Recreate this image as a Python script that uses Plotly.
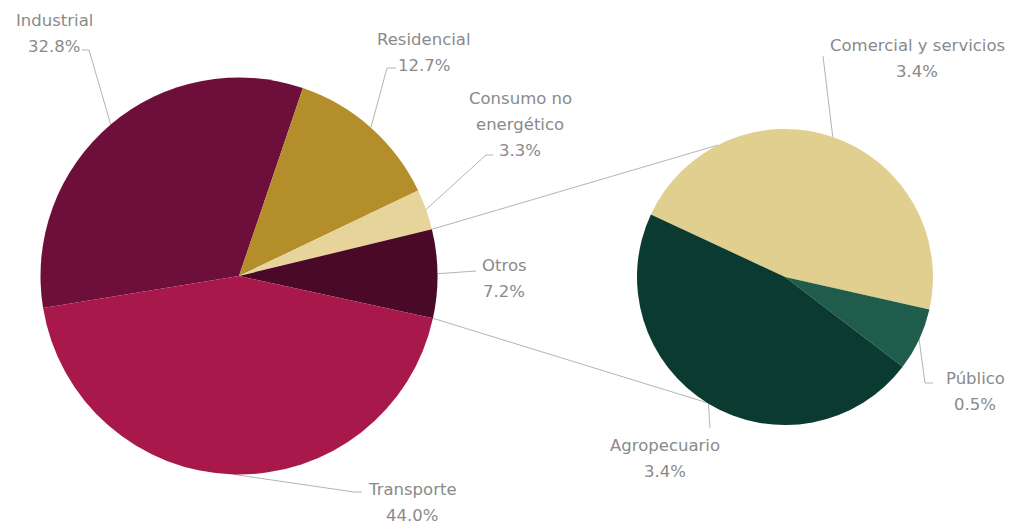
import math
import plotly.graph_objects as go

# Consumo final de energía por sector (%)
main_labels = ["Industrial", "Residencial", "Consumo no energético", "Otros", "Transporte"]
main_values = [32.8, 12.7, 3.3, 7.2, 44.0]
main_colors = ["#6e0e3b", "#b38e2a", "#e6d49a", "#4a0a27", "#a8184b"]

# Desglose de "Otros"
sub_labels = ["Comercial y servicios", "Público", "Agropecuario"]
sub_values = [3.4, 0.5, 3.4]
sub_colors = ["#e0cf8f", "#1f5c4c", "#0b3a31"]

# Canvas and pie geometry (pixels)
W, H = 1018, 525
MAIN_C, MAIN_R, MAIN_ROT = (239.0, 276.0), 198.5, 260.7
SUB_C, SUB_R, SUB_ROT = (785.0, 277.0), 148.0, 295.0

TEXT_COLOR = "#8a8a8a"
LINE_COLOR = "#b4b4b4"
FONT = dict(family="DejaVu Sans", size=16.5, color=TEXT_COLOR)
LINE_GAP = 26

# label placement: text lines, centre x, first-line y, leader bend points
label_layout = {
    "Industrial": dict(lines=["Industrial"], x=54, y=20, bend=[(89, 50), (82, 50)]),
    "Residencial": dict(lines=["Residencial"], x=424, y=39, bend=[(387, 68), (396, 68)]),
    "Consumo no energético": dict(lines=["Consumo no", "energético"], x=520, y=98,
                                   bend=[(486, 155), (493, 155)]),
    "Otros": dict(lines=["Otros"], x=504, y=265, bend=[(462, 272), (476, 271)]),
    "Transporte": dict(lines=["Transporte"], x=412, y=489, bend=[(354, 492), (362, 492)]),
    "Comercial y servicios": dict(lines=["Comercial y servicios"], x=917, y=45, bend=[(823, 56)]),
    "Público": dict(lines=["Público"], x=975, y=378, bend=[(925, 383), (933, 383)]),
    "Agropecuario": dict(lines=["Agropecuario"], x=665, y=445, bend=[(710, 428)]),
}

# Series lines join the "Otros" slice to the secondary pie at these angles
SERIES_END_ANGLES = (333.0, 211.9)


def domain(c, r):
    cx, cy = c
    return dict(x=[(cx - r) / W, (cx + r) / W], y=[1 - (cy + r) / H, 1 - (cy - r) / H])


def slice_angles(values, rotation):
    total = sum(values)
    out, a = [], rotation
    for v in values:
        span = 360.0 * v / total
        out.append((a, a + span, a + span / 2))
        a += span
    return out


def edge_point(c, r, ang):
    t = math.radians(ang)
    return (c[0] + r * math.sin(t), c[1] - r * math.cos(t))


fig = go.Figure()

fig.add_trace(go.Pie(
    labels=main_labels, values=main_values, sort=False, direction="clockwise",
    rotation=MAIN_ROT, marker=dict(colors=main_colors, line=dict(width=0)),
    textinfo="none", hoverinfo="label+percent", showlegend=False,
    domain=domain(MAIN_C, MAIN_R),
))
fig.add_trace(go.Pie(
    labels=sub_labels, values=sub_values, sort=False, direction="clockwise",
    rotation=SUB_ROT, marker=dict(colors=sub_colors, line=dict(width=0)),
    textinfo="none", hoverinfo="label+value", showlegend=False,
    domain=domain(SUB_C, SUB_R),
))

main_ang = slice_angles(main_values, MAIN_ROT)
sub_ang = slice_angles(sub_values, SUB_ROT)

# series lines between the two pies
otros = main_ang[main_labels.index("Otros")]
for a_main, a_sub in zip((otros[0], otros[1]), SERIES_END_ANGLES):
    p0 = edge_point(MAIN_C, MAIN_R, a_main)
    p1 = edge_point(SUB_C, SUB_R, a_sub)
    fig.add_trace(go.Scatter(x=[p0[0], p1[0]], y=[p0[1], p1[1]], mode="lines",
                             line=dict(color=LINE_COLOR, width=1),
                             hoverinfo="skip", showlegend=False))

annotations = []


def add_label(name, value, c, r, ang):
    lay = label_layout[name]
    p = edge_point(c, r, ang)
    xs = [p[0]] + [b[0] for b in lay["bend"]]
    ys = [p[1]] + [b[1] for b in lay["bend"]]
    fig.add_trace(go.Scatter(x=xs, y=ys, mode="lines",
                             line=dict(color=LINE_COLOR, width=1),
                             hoverinfo="skip", showlegend=False))
    texts = lay["lines"] + [f"{value:.1f}%"]
    for i, t in enumerate(texts):
        annotations.append(dict(x=lay["x"], y=lay["y"] + i * LINE_GAP, xref="x", yref="y",
                                text=t, showarrow=False, xanchor="center", yanchor="middle",
                                font=FONT))


for name, v, (_, _, mid) in zip(main_labels, main_values, main_ang):
    add_label(name, v, MAIN_C, MAIN_R, mid)
for name, v, (_, _, mid) in zip(sub_labels, sub_values, sub_ang):
    add_label(name, v, SUB_C, SUB_R, mid)

fig.update_layout(
    width=W, height=H, margin=dict(l=0, r=0, t=0, b=0),
    paper_bgcolor="white", plot_bgcolor="rgba(0,0,0,0)",
    xaxis=dict(range=[0, W], visible=False, fixedrange=True),
    yaxis=dict(range=[H, 0], visible=False, fixedrange=True),
    annotations=annotations,
)

fig.write_html("out.html")
